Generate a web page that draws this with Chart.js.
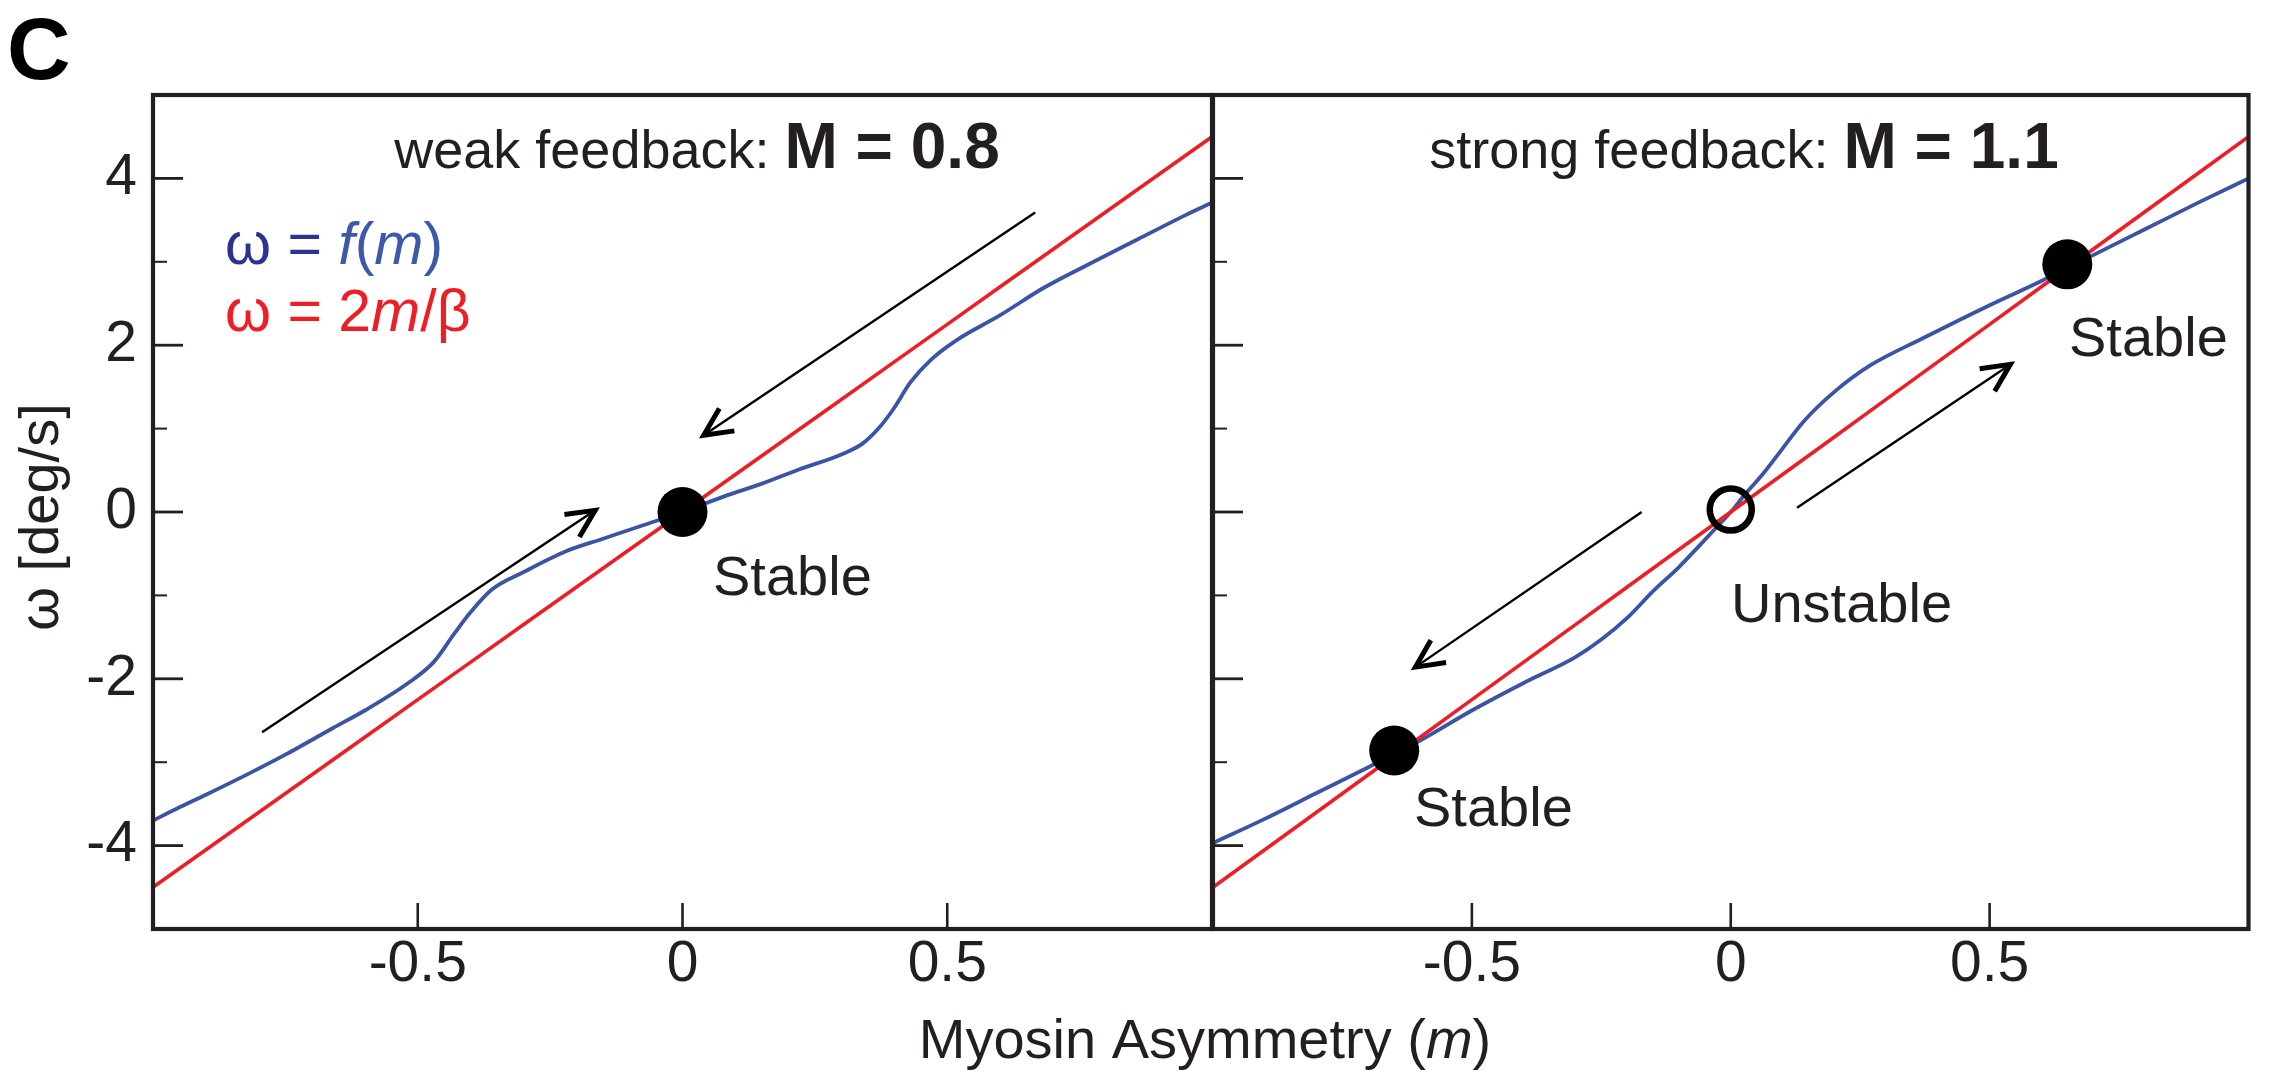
<!DOCTYPE html>
<html>
<head>
<meta charset="utf-8">
<title>Myosin asymmetry - weak vs strong feedback</title>
<script src="https://cdn.jsdelivr.net/npm/chart.js@4.4.1/dist/chart.umd.min.js"></script>
<style>
  html, body { margin: 0; padding: 0; background: #fff; }
  #wrap { position: relative; width: 2276px; height: 1071px; }
  #wrap canvas { position: absolute; left: 0; top: 0; }
</style>
</head>
<body>
<div id="wrap">
  <canvas id="weakChart" width="2276" height="1071"></canvas>
  <canvas id="strongChart" width="2276" height="1071"></canvas>
</div>
<script>
// red line, omega = 2m/beta (same in both panels)
const lineM = [-1, -0.9, -0.8, -0.7, -0.6, -0.5, -0.4, -0.3, -0.2, -0.1, 0, 0.1, 0.2, 0.3, 0.4, 0.5, 0.6, 0.7, 0.8, 0.9, 1];
const redOmega = [-4.5, -4.05, -3.6, -3.15, -2.7, -2.25, -1.8, -1.35, -0.9, -0.45, 0, 0.45, 0.9, 1.35, 1.8, 2.25, 2.7, 3.15, 3.6, 4.05, 4.5];

// blue curve, omega = f(m), weak feedback M = 0.8
const weakM = [-1, -0.95, -0.9, -0.82, -0.75, -0.66, -0.6, -0.52, -0.47, -0.43, -0.4, -0.36, -0.3, -0.22, -0.15, -0.08,
  0, 0.08, 0.15, 0.22, 0.3, 0.34, 0.37, 0.4, 0.43, 0.47, 0.52, 0.6, 0.68, 0.77, 0.86, 0.95, 1];
const weakOmega = [-3.7, -3.54, -3.39, -3.14, -2.91, -2.59, -2.38, -2.06, -1.8, -1.45, -1.2, -0.93, -0.72, -0.47, -0.32, -0.17,
  0, 0.19, 0.34, 0.51, 0.69, 0.82, 1.0, 1.25, 1.55, 1.83, 2.07, 2.36, 2.68, 2.98, 3.27, 3.56, 3.71];

// blue curve, strong feedback M = 1.1
const strongM = [-1, -0.9, -0.8, -0.7, -0.65, -0.6, -0.5, -0.4, -0.3, -0.25, -0.2, -0.15, -0.1, -0.06, -0.03,
  0, 0.03, 0.06, 0.1, 0.14, 0.2, 0.27, 0.37, 0.5, 0.6, 0.65, 0.7, 0.8, 0.9, 1];
const strongOmega = [-3.97, -3.68, -3.37, -3.06, -2.9, -2.74, -2.38, -2.05, -1.74, -1.53, -1.27, -0.95, -0.66, -0.4, -0.2,
  0, 0.23, 0.44, 0.76, 1.08, 1.44, 1.76, 2.08, 2.48, 2.77, 2.93, 3.08, 3.39, 3.7, 4.0];

// fixed points
const weakStableM = [0];
const weakStableW = [0];
const strongStableM = [-0.65, 0.65];
const strongStableW = [-2.86, 2.97];
const strongUnstableM = [0];
const strongUnstableW = [0.03];

// arrows as [m0, w0, m1, w1], head at the second point
const weakArrows = [[0.666, 3.59, 0.04, 0.92], [-0.794, -2.64, -0.165, 0.02]];
const strongArrows = [[-0.172, 0.0, -0.609, -1.86], [0.128, 0.05, 0.54, 1.77]];

// tick labels
const xTickLabels = [-0.5, 0, 0.5];
const yTickLabels = [-4, -2, 0, 2, 4];
const yMinorTicks = [-3, -1, 1, 3];

const ink = '#231f20';
const fam = '"Liberation Sans", Arial, Helvetica, sans-serif';
const blue = '#3b54a5';
const red = '#ec1f26';

function pts(xs, ys) {
  return xs.map(function(x, i){ return {x: x, y: ys[i]}; });
}

function writeParts(ctx, parts, x, y, align) {
  let total = 0;
  parts.forEach(function(p){ ctx.font = p[1]; total += ctx.measureText(p[0]).width; });
  let cx = align === 'center' ? x - total / 2 : x;
  ctx.textAlign = 'left';
  ctx.textBaseline = 'alphabetic';
  parts.forEach(function(p){
    ctx.font = p[1];
    ctx.fillStyle = p[2];
    ctx.fillText(p[0], cx, y);
    cx += ctx.measureText(p[0]).width;
  });
}

function drawArrow(ctx, x0, y0, x1, y1) {
  ctx.strokeStyle = '#000';
  ctx.lineWidth = 2.4;
  ctx.lineCap = 'butt';
  ctx.beginPath();
  ctx.moveTo(x0, y0);
  ctx.lineTo(x1, y1);
  ctx.stroke();
  const a = Math.atan2(y1 - y0, x1 - x0);
  const len = 31, spread = 0.45;
  ctx.lineWidth = 5;
  ctx.lineJoin = 'miter';
  ctx.beginPath();
  ctx.moveTo(x1 - len * Math.cos(a - spread), y1 - len * Math.sin(a - spread));
  ctx.lineTo(x1, y1);
  ctx.lineTo(x1 - len * Math.cos(a + spread), y1 - len * Math.sin(a + spread));
  ctx.stroke();
}

// frame plus inward tick marks, drawn over the curves
const framePlugin = {
  id: 'frame',
  afterDatasetsDraw: function(chart) {
    const ctx = chart.ctx, area = chart.chartArea;
    const xs = chart.scales.x, ys = chart.scales.y;
    ctx.save();
    ctx.strokeStyle = ink;
    ctx.lineWidth = 2.8;
    yTickLabels.forEach(function(v){
      const py = ys.getPixelForValue(v);
      ctx.beginPath(); ctx.moveTo(area.left, py); ctx.lineTo(area.left + 30, py); ctx.stroke();
    });
    ctx.lineWidth = 2;
    yMinorTicks.forEach(function(v){
      const py = ys.getPixelForValue(v);
      ctx.beginPath(); ctx.moveTo(area.left, py); ctx.lineTo(area.left + 14, py); ctx.stroke();
    });
    ctx.lineWidth = 2.6;
    xTickLabels.forEach(function(v){
      const px = xs.getPixelForValue(v);
      ctx.beginPath(); ctx.moveTo(px, area.bottom); ctx.lineTo(px, area.bottom - 26); ctx.stroke();
    });
    ctx.lineWidth = 4.2;
    ctx.strokeRect(area.left, area.top, area.right - area.left, area.bottom - area.top);
    ctx.restore();
  }
};

// text and arrows for each panel
const notesPlugin = {
  id: 'notes',
  afterDraw: function(chart, args, opts) {
    const ctx = chart.ctx;
    const xs = chart.scales.x, ys = chart.scales.y;
    ctx.save();
    opts.arrows.forEach(function(a){
      drawArrow(ctx, xs.getPixelForValue(a[0]), ys.getPixelForValue(a[1]),
                     xs.getPixelForValue(a[2]), ys.getPixelForValue(a[3]));
    });
    opts.texts.forEach(function(t){
      writeParts(ctx, t.parts, t.x, t.y, t.align);
    });
    if (opts.yTitle) {
      ctx.translate(43, 517);
      ctx.rotate(-Math.PI / 2);
      ctx.font = '56px ' + fam;
      ctx.fillStyle = ink;
      ctx.textAlign = 'center';
      ctx.textBaseline = 'middle';
      ctx.fillText('ω [deg/s]', 0, 0);
    }
    ctx.restore();
  }
};

const reg = '56px ' + fam;
const regIt = 'italic 56px ' + fam;
const titleReg = '54px ' + fam;
const titleBold = 'bold 64px ' + fam;
const legReg = '59px ' + fam;
const legIt = 'italic 59px ' + fam;

function makeChart(id, blueM, blueW, dots, openDots, pad, yWidth, showY, notes) {
  const datasets = [
    {
      data: pts(dots[0], dots[1]), showLine: false, order: 0,
      pointRadius: 25, pointBackgroundColor: '#000', pointBorderWidth: 0
    },
    {
      data: pts(lineM, redOmega), borderColor: red, borderWidth: 3.6, pointRadius: 0, order: 1
    },
    {
      data: pts(blueM, blueW), borderColor: blue, borderWidth: 3.8, pointRadius: 0, order: 2,
      cubicInterpolationMode: 'monotone'
    }
  ];
  if (openDots) {
    datasets.push({
      data: pts(openDots[0], openDots[1]), showLine: false, order: 0,
      pointRadius: 21, pointBackgroundColor: 'rgba(0,0,0,0)', pointBorderColor: '#000', pointBorderWidth: 6.5
    });
  }
  return new Chart(document.getElementById(id), {
    type: 'line',
    data: { datasets: datasets },
    plugins: [framePlugin, notesPlugin],
    options: {
      responsive: false,
      animation: false,
      events: [],
      devicePixelRatio: 1,
      layout: { padding: pad },
      plugins: { legend: { display: false }, tooltip: { enabled: false }, notes: notes },
      scales: {
        x: {
          type: 'linear', min: -1, max: 1,
          grid: { display: false, drawTicks: false },
          border: { display: false },
          ticks: {
            stepSize: 0.5, padding: 2, color: ink, maxRotation: 0,
            font: { family: fam, size: 57 },
            callback: function(v){ return xTickLabels.indexOf(v) >= 0 ? String(v) : ''; }
          },
          afterFit: function(s){ s.height = 142; }
        },
        y: {
          type: 'linear', min: -5, max: 5,
          grid: { display: false, drawTicks: false },
          border: { display: false },
          ticks: {
            display: showY, stepSize: 1, padding: 16, color: ink,
            font: { family: fam, size: 57 },
            callback: function(v){ return yTickLabels.indexOf(v) >= 0 ? String(v) : ''; }
          },
          afterFit: function(s){ s.width = yWidth; }
        }
      }
    }
  });
}

makeChart('weakChart', weakM, weakOmega, [weakStableM, weakStableW], null,
  { left: 0, top: 95, right: 2276 - 1212, bottom: 0 }, 153, true,
  {
    arrows: weakArrows,
    yTitle: true,
    texts: [
      { parts: [['C', 'bold 88px ' + fam, '#000']], x: 7, y: 79, align: 'left' },
      { parts: [['weak feedback: ', titleReg, ink], ['M = 0.8', titleBold, ink]], x: 697, y: 168, align: 'center' },
      { parts: [['ω = ', legReg, '#2e3192'], ['f', legIt, '#3d5aa9'], ['(', legReg, '#3d5aa9'], ['m', legIt, '#3d5aa9'], [')', legReg, '#3d5aa9']], x: 225, y: 264, align: 'left' },
      { parts: [['ω = 2', legReg, red], ['m', legIt, red], ['/β', legReg, red]], x: 225, y: 331, align: 'left' },
      { parts: [['Stable', reg, ink]], x: 713, y: 595, align: 'left' },
      { parts: [['Myosin Asymmetry (', reg, ink], ['m', regIt, ink], [')', reg, ink]], x: 1205, y: 1058, align: 'center' }
    ]
  });

makeChart('strongChart', strongM, strongOmega, [strongStableM, strongStableW], [strongUnstableM, strongUnstableW],
  { left: 1213, top: 95, right: 2, bottom: 0 }, 0, false,
  {
    arrows: strongArrows,
    yTitle: false,
    texts: [
      { parts: [['strong feedback: ', titleReg, ink], ['M = 1.1', titleBold, ink]], x: 1744, y: 168, align: 'center' },
      { parts: [['Unstable', reg, ink]], x: 1731, y: 622, align: 'left' },
      { parts: [['Stable', reg, ink]], x: 1414, y: 826, align: 'left' },
      { parts: [['Stable', reg, ink]], x: 2069, y: 356, align: 'left' }
    ]
  });
</script>
</body>
</html>
